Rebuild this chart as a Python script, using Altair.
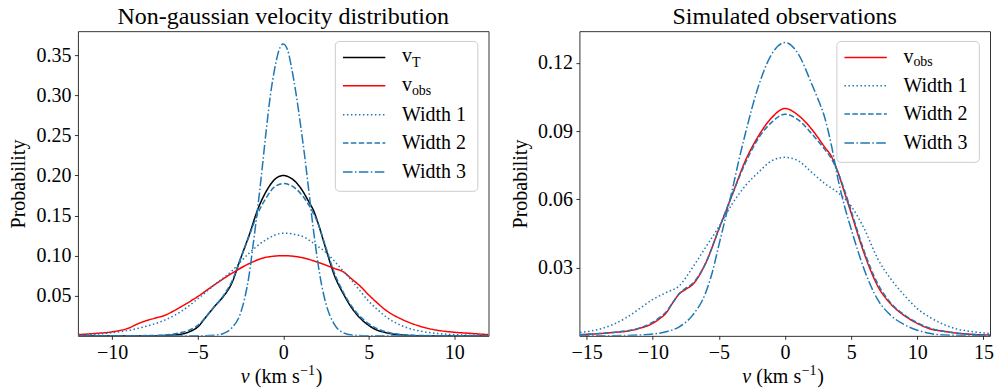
import altair as alt
import pandas as pd

FONT = "Liberation Serif"
BLUE = "#1f77b4"

# ---------------- Left panel: Non-gaussian velocity distribution ----------------
L_vT_x = [-12, -8, -7, -6, -5.5, -5, -4.5, -4, -3.5, -3, -2.5, -2, -1.5, -1, -0.5, 0, 0.5, 1, 1.5, 1.8, 2, 2.5, 3, 3.5, 4, 4.5, 5, 5.5, 6, 6.5, 7, 8, 12]
L_vT_y = [0, 0.0001, 0.0005, 0.002, 0.005, 0.011, 0.024, 0.037, 0.049, 0.066, 0.096, 0.125, 0.157, 0.180, 0.195, 0.200, 0.196, 0.185, 0.167, 0.155, 0.143, 0.108, 0.075, 0.053, 0.035, 0.022, 0.013, 0.007, 0.004, 0.002, 0.001, 0.0002, 0]

L_obs_x = [-12, -11, -10, -9, -8.5, -8, -7.5, -7, -6, -5, -4, -3, -2, -1, 0, 1, 2, 3, 3.5, 4, 4.5, 5, 5.5, 6, 7, 8, 9, 10, 11, 12]
L_obs_y = [0.0015, 0.003, 0.005, 0.010, 0.015, 0.019, 0.022, 0.025, 0.036, 0.049, 0.064, 0.078, 0.090, 0.098, 0.100, 0.098, 0.092, 0.084, 0.080, 0.071, 0.062, 0.051, 0.041, 0.032, 0.020, 0.012, 0.007, 0.0045, 0.003, 0.0015]

L_w1_x = [-12, -11, -10, -9, -8, -7, -6, -5, -4, -3, -2, -1, 0, 1, 2, 2.5, 3, 3.5, 4, 4.5, 5, 5.5, 6, 7, 8, 9, 10, 11, 12]
L_w1_y = [0.0008, 0.002, 0.004, 0.007, 0.012, 0.019, 0.030, 0.046, 0.064, 0.081, 0.103, 0.120, 0.128, 0.125, 0.112, 0.104, 0.093, 0.081, 0.069, 0.056, 0.043, 0.033, 0.024, 0.012, 0.006, 0.003, 0.0015, 0.0008, 0.0004]

L_w2_x = [-12, -8, -7, -6, -5.5, -5, -4.5, -4, -3.5, -3, -2.5, -2, -1.5, -1, -0.5, 0, 0.5, 1, 1.5, 2, 2.5, 3, 3.5, 4, 4.5, 5, 5.5, 6, 7, 8, 12]
L_w2_y = [0, 0.0003, 0.001, 0.004, 0.007, 0.013, 0.024, 0.037, 0.050, 0.068, 0.096, 0.124, 0.152, 0.172, 0.186, 0.190, 0.187, 0.178, 0.163, 0.142, 0.110, 0.078, 0.055, 0.037, 0.024, 0.015, 0.009, 0.005, 0.0015, 0.0004, 0]

L_w3_x = [-12, -5, -4, -3.5, -3, -2.5, -2.25, -2, -1.75, -1.5, -1.25, -1, -0.75, -0.5, -0.25, 0, 0.25, 0.5, 0.75, 1, 1.25, 1.5, 1.75, 2, 2.25, 2.5, 3, 3.5, 4, 5, 12]
L_w3_y = [0, 0.0001, 0.0008, 0.003, 0.010, 0.028, 0.047, 0.075, 0.115, 0.158, 0.205, 0.255, 0.300, 0.333, 0.356, 0.364, 0.357, 0.333, 0.302, 0.265, 0.225, 0.180, 0.135, 0.095, 0.063, 0.040, 0.014, 0.004, 0.001, 0.0001, 0]

# ---------------- Right panel: Simulated observations ----------------
R_obs_x = [-15.5, -14, -13, -12, -11, -10, -9.5, -9, -8.5, -8, -7.5, -7, -6, -5, -4, -3, -2, -1, 0, 1, 2, 3, 3.5, 4, 4.5, 5, 6, 7, 8, 9, 10, 11, 12, 13, 14, 15.5]
R_obs_y = [0.0005, 0.001, 0.0015, 0.002, 0.0033, 0.0055, 0.0075, 0.010, 0.0145, 0.0185, 0.0205, 0.0225, 0.032, 0.047, 0.062, 0.077, 0.088, 0.096, 0.100, 0.097, 0.091, 0.083, 0.079, 0.072, 0.063, 0.054, 0.036, 0.022, 0.014, 0.009, 0.0055, 0.003, 0.002, 0.0012, 0.0007, 0.0003]

R_w1_x = [-15.5, -14, -13, -12, -11, -10, -9, -8, -7, -6, -5, -4, -3, -2, -1, 0, 1, 2, 3, 4, 5, 6, 7, 8, 9, 10, 11, 12, 13, 14, 15.5]
R_w1_y = [0.0015, 0.003, 0.005, 0.008, 0.012, 0.016, 0.019, 0.022, 0.030, 0.039, 0.048, 0.058, 0.066, 0.072, 0.077, 0.0785, 0.077, 0.072, 0.067, 0.063, 0.057, 0.047, 0.034, 0.025, 0.018, 0.012, 0.008, 0.005, 0.003, 0.002, 0.001]

R_w2_x = R_obs_x
R_w2_y = [0.0005, 0.001, 0.0015, 0.0022, 0.0035, 0.006, 0.008, 0.0105, 0.0145, 0.0185, 0.021, 0.023, 0.032, 0.047, 0.062, 0.076, 0.087, 0.094, 0.0975, 0.095, 0.089, 0.082, 0.078, 0.072, 0.064, 0.055, 0.037, 0.023, 0.0145, 0.0093, 0.0058, 0.0033, 0.002, 0.0012, 0.0007, 0.0003]

R_w3_x = [-15.5, -12, -10, -9, -8, -7, -6, -5.5, -5, -4.5, -4, -3.5, -3, -2, -1, 0, 1, 2, 2.5, 3, 3.5, 4, 4.5, 5, 6, 7, 8, 9, 10, 11, 12, 15.5]
R_w3_y = [0, 0.0002, 0.0008, 0.0018, 0.004, 0.009, 0.019, 0.028, 0.040, 0.052, 0.064, 0.077, 0.089, 0.110, 0.124, 0.129, 0.124, 0.111, 0.104, 0.096, 0.084, 0.069, 0.057, 0.047, 0.029, 0.016, 0.009, 0.005, 0.0025, 0.001, 0.0004, 0]

SERIES = ["vT", "vobs", "Width 1", "Width 2", "Width 3"]
COLORS = ["black", "red", BLUE, BLUE, BLUE]
DASHES = [[1, 0], [1, 0], [1.5, 2.5], [5.5, 2.4], [9.6, 2.4, 1.5, 2.4]]

X_TICKS_L = [-10, -5, 0, 5, 10]
Y_TICKS_L = [0.05, 0.10, 0.15, 0.20, 0.25, 0.30, 0.35]
X_TICKS_R = [-15, -10, -5, 0, 5, 10, 15]
Y_TICKS_R = [0.03, 0.06, 0.09, 0.12]

TITLES = ["Non-gaussian velocity distribution", "Simulated observations"]


def frame(pairs):
    rows = []
    for name, xs, ys in pairs:
        for a, b in zip(xs, ys):
            rows.append({"v": a, "p": b, "series": name})
    return pd.DataFrame(rows)


left_df = frame([("vT", L_vT_x, L_vT_y), ("vobs", L_obs_x, L_obs_y),
                 ("Width 1", L_w1_x, L_w1_y), ("Width 2", L_w2_x, L_w2_y),
                 ("Width 3", L_w3_x, L_w3_y)])
right_df = frame([("vobs", R_obs_x, R_obs_y), ("Width 1", R_w1_x, R_w1_y),
                  ("Width 2", R_w2_x, R_w2_y), ("Width 3", R_w3_x, R_w3_y)])

ONE = pd.DataFrame({"a": [0]})


def txt(s, x, y, size=20, baseline="alphabetic", align="left", style="normal"):
    return alt.Chart(ONE).mark_text(text=s, align=align, baseline=baseline, font=FONT,
                                    fontSize=size, fontStyle=style, color="black").encode(
        x=alt.value(x), y=alt.value(y))


def legend(entries, box_bottom):
    layers = [alt.Chart(ONE).mark_rect(fill="white", fillOpacity=0.8, stroke="#cccccc",
                                      strokeWidth=1, cornerRadius=4).encode(
        x=alt.value(257.7), x2=alt.value(400.3), y=alt.value(10.3), y2=alt.value(box_bottom))]
    for name, rowy in entries:
        i = SERIES.index(name)
        layers.append(alt.Chart(ONE).mark_rule(color=COLORS[i], strokeDash=DASHES[i], strokeWidth=1.5).encode(
            x=alt.value(265.3), x2=alt.value(307.7), y=alt.value(rowy)))
        if name == "vT":
            layers.append(txt("v", 324.3, rowy + 5))
            layers.append(txt("T", 334.3, rowy + 10, size=14))
        elif name == "vobs":
            layers.append(txt("v", 324.3, rowy + 5.5))
            layers.append(txt("obs", 334.3, rowy + 9, size=14))
        else:
            layers.append(txt(name, 324.3, rowy, baseline="middle"))
    return layers


def xtitle():
    base = 352
    x0 = 163
    return [
        txt("v", x0, base, style="italic"),
        txt("(km s", x0 + 14, base),
        txt("−1", x0 + 59.5, base - 8, size=14),
        txt(")", x0 + 75, base),
    ]


def panel(df, xdom, xticks, ydom, yticks, title, entries, box_bottom):
    lines = alt.Chart(df).mark_line(strokeWidth=1.5, interpolate="monotone", clip=True).encode(
        x=alt.X("v:Q", scale=alt.Scale(domain=xdom, nice=False, zero=False),
                axis=alt.Axis(values=xticks, format="d", title=None)),
        y=alt.Y("p:Q", scale=alt.Scale(domain=ydom, nice=False, zero=False),
                axis=alt.Axis(values=yticks, format=".2f", title="Probability")),
        color=alt.Color("series:N", scale=alt.Scale(domain=SERIES, range=COLORS), legend=None),
        strokeDash=alt.StrokeDash("series:N", scale=alt.Scale(domain=SERIES, range=DASHES), legend=None),
    )
    ttl = alt.Chart(ONE).mark_text(text=title, align="center", baseline="alphabetic",
                                   font=FONT, fontSize=24, color="black").encode(
        x=alt.value(205.5), y=alt.value(-7))
    return alt.layer(lines, *legend(entries, box_bottom), ttl, *xtitle()).properties(width=411, height=305)


left = panel(left_df, [-12, 12], X_TICKS_L, [0, 0.38], Y_TICKS_L, TITLES[0],
             [("vT", 26.3), ("vobs", 54.7), ("Width 1", 83.7), ("Width 2", 112), ("Width 3", 141)], 160.3)
right = panel(right_df, [-15.55, 15.5], X_TICKS_R, [0, 0.134], Y_TICKS_R, TITLES[1],
              [("vobs", 26.3), ("Width 1", 54.7), ("Width 2", 83), ("Width 3", 112)], 131.3)

chart = alt.hconcat(left, right, spacing=91, bounds="flush").properties(
    padding={"left": 8, "top": 4, "right": 0, "bottom": 0}
).configure_view(
    stroke="#333333", strokeWidth=1
).configure_axis(
    grid=False, domain=False, tickColor="black", tickSize=3.5, tickWidth=0.8,
    labelFont=FONT, labelFontSize=20, labelColor="black", labelPadding=3.5,
    titleFont=FONT, titleFontSize=20, titleFontWeight="normal", titleColor="black",
).configure_axisY(titlePadding=7)

chart.save("out.html", embed_options={"renderer": "svg", "actions": False})
